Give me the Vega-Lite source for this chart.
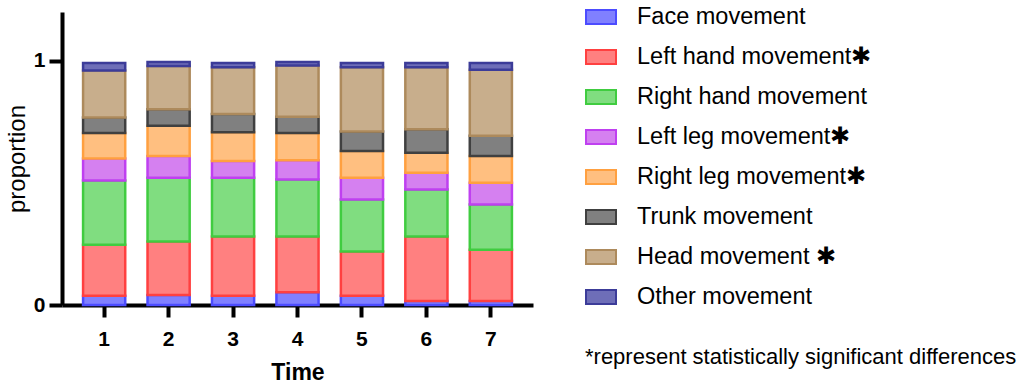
{
  "$schema": "https://vega.github.io/schema/vega-lite/v6.json",
  "width": 471,
  "height": 293,
  "autosize": {"type": "none"},
  "padding": {"left": 62, "top": 12, "right": 491, "bottom": 80},
  "background": "white",
  "config": {
    "font": "Liberation Sans",
    "view": {"stroke": null},
    "legend": {
      "orient": "none",
      "legendX": 523,
      "legendY": -11,
      "symbolType": "M-1,-0.47H1V0.47H-1Z",
      "symbolSize": 900,
      "symbolStrokeWidth": 2,
      "symbolOpacity": 1,
      "labelFontSize": 23.5,
      "labelColor": "black",
      "labelOffset": 20,
      "labelLimit": 400,
      "rowPadding": 12,
      "titleOrient": "bottom",
      "titleAnchor": "start",
      "titleFontSize": 22,
      "titleFontWeight": "normal",
      "titleColor": "black",
      "titleLimit": 800,
      "titlePadding": 38
    }
  },
  "data": {
    "values": [
      {"time": "1", "part": "Face movement", "p": 0.038},
      {"time": "1", "part": "Left hand movement", "p": 0.209},
      {"time": "1", "part": "Right hand movement", "p": 0.263},
      {"time": "1", "part": "Left leg movement", "p": 0.090},
      {"time": "1", "part": "Right leg movement", "p": 0.104},
      {"time": "1", "part": "Trunk movement", "p": 0.064},
      {"time": "1", "part": "Head movement", "p": 0.192},
      {"time": "1", "part": "Other movement", "p": 0.031},
      {"time": "2", "part": "Face movement", "p": 0.041},
      {"time": "2", "part": "Left hand movement", "p": 0.219},
      {"time": "2", "part": "Right hand movement", "p": 0.261},
      {"time": "2", "part": "Left leg movement", "p": 0.089},
      {"time": "2", "part": "Right leg movement", "p": 0.124},
      {"time": "2", "part": "Trunk movement", "p": 0.068},
      {"time": "2", "part": "Head movement", "p": 0.177},
      {"time": "2", "part": "Other movement", "p": 0.016},
      {"time": "3", "part": "Face movement", "p": 0.038},
      {"time": "3", "part": "Left hand movement", "p": 0.243},
      {"time": "3", "part": "Right hand movement", "p": 0.240},
      {"time": "3", "part": "Left leg movement", "p": 0.069},
      {"time": "3", "part": "Right leg movement", "p": 0.117},
      {"time": "3", "part": "Trunk movement", "p": 0.075},
      {"time": "3", "part": "Head movement", "p": 0.192},
      {"time": "3", "part": "Other movement", "p": 0.017},
      {"time": "4", "part": "Face movement", "p": 0.052},
      {"time": "4", "part": "Left hand movement", "p": 0.229},
      {"time": "4", "part": "Right hand movement", "p": 0.233},
      {"time": "4", "part": "Left leg movement", "p": 0.079},
      {"time": "4", "part": "Right leg movement", "p": 0.111},
      {"time": "4", "part": "Trunk movement", "p": 0.067},
      {"time": "4", "part": "Head movement", "p": 0.210},
      {"time": "4", "part": "Other movement", "p": 0.014},
      {"time": "5", "part": "Face movement", "p": 0.038},
      {"time": "5", "part": "Left hand movement", "p": 0.181},
      {"time": "5", "part": "Right hand movement", "p": 0.213},
      {"time": "5", "part": "Left leg movement", "p": 0.089},
      {"time": "5", "part": "Right leg movement", "p": 0.110},
      {"time": "5", "part": "Trunk movement", "p": 0.080},
      {"time": "5", "part": "Head movement", "p": 0.263},
      {"time": "5", "part": "Other movement", "p": 0.017},
      {"time": "6", "part": "Face movement", "p": 0.016},
      {"time": "6", "part": "Left hand movement", "p": 0.265},
      {"time": "6", "part": "Right hand movement", "p": 0.192},
      {"time": "6", "part": "Left leg movement", "p": 0.069},
      {"time": "6", "part": "Right leg movement", "p": 0.082},
      {"time": "6", "part": "Trunk movement", "p": 0.096},
      {"time": "6", "part": "Head movement", "p": 0.254},
      {"time": "6", "part": "Other movement", "p": 0.017},
      {"time": "7", "part": "Face movement", "p": 0.016},
      {"time": "7", "part": "Left hand movement", "p": 0.210},
      {"time": "7", "part": "Right hand movement", "p": 0.186},
      {"time": "7", "part": "Left leg movement", "p": 0.089},
      {"time": "7", "part": "Right leg movement", "p": 0.109},
      {"time": "7", "part": "Trunk movement", "p": 0.083},
      {"time": "7", "part": "Head movement", "p": 0.270},
      {"time": "7", "part": "Other movement", "p": 0.028}
    ]
  },
  "transform": [
    {"calculate": "indexof(['Face movement', 'Left hand movement', 'Right hand movement', 'Left leg movement', 'Right leg movement', 'Trunk movement', 'Head movement', 'Other movement'], datum.part)", "as": "stackOrder"}
  ],
  "mark": {"type": "bar", "strokeWidth": 2.5},
  "encoding": {
    "x": {
      "field": "time",
      "type": "ordinal",
      "scale": {"paddingInner": 0.346, "paddingOuter": 0.327},
      "axis": {
        "title": "Time",
        "titleFontSize": 23,
        "titleFontWeight": "bold",
        "titleColor": "black",
        "titlePadding": 12,
        "labelAngle": 0,
        "labelFontSize": 21,
        "labelFontWeight": "bold",
        "labelColor": "black",
        "labelPadding": 11,
        "tickSize": 12,
        "tickWidth": 4,
        "tickColor": "black",
        "domainWidth": 4,
        "domainColor": "black"
      }
    },
    "y": {
      "field": "p",
      "type": "quantitative",
      "stack": "zero",
      "scale": {"domain": [0, 1.2], "nice": false},
      "axis": {
        "title": "proportion",
        "titleFontSize": 24,
        "titleFontWeight": "normal",
        "titleColor": "black",
        "titlePadding": 4,
        "values": [0, 1],
        "format": "d",
        "grid": false,
        "labelFontSize": 21,
        "labelFontWeight": "bold",
        "labelColor": "black",
        "labelPadding": 4,
        "tickSize": 13,
        "tickWidth": 4,
        "tickColor": "black",
        "domainWidth": 4,
        "domainColor": "black"
      }
    },
    "order": {"field": "stackOrder", "type": "quantitative", "sort": "ascending"},
    "fill": {
      "field": "part",
      "type": "nominal",
      "title": "*represent statistically significant differences",
      "sort": ["Face movement", "Left hand movement", "Right hand movement", "Left leg movement", "Right leg movement", "Trunk movement", "Head movement", "Other movement"],
      "scale": {
        "domain": ["Face movement", "Left hand movement", "Right hand movement", "Left leg movement", "Right leg movement", "Trunk movement", "Head movement", "Other movement"],
        "range": ["#8080ff", "#ff8080", "#80dd80", "#d580f0", "#ffbf80", "#808080", "#c8ae8c", "#6e6eb8"]
      },
      "legend": {"labelExpr": "datum.label == 'Head movement' ? datum.label + ' ✱' : (indexof(['Left hand movement', 'Left leg movement', 'Right leg movement'], datum.label) >= 0 ? datum.label + '✱' : datum.label)"}
    },
    "stroke": {
      "field": "part",
      "type": "nominal",
      "title": "*represent statistically significant differences",
      "sort": ["Face movement", "Left hand movement", "Right hand movement", "Left leg movement", "Right leg movement", "Trunk movement", "Head movement", "Other movement"],
      "scale": {
        "domain": ["Face movement", "Left hand movement", "Right hand movement", "Left leg movement", "Right leg movement", "Trunk movement", "Head movement", "Other movement"],
        "range": ["#4c4cff", "#ff4040", "#40cc40", "#bf40f0", "#ffa040", "#404040", "#ad8a5c", "#3c3c99"]
      },
      "legend": {"labelExpr": "datum.label == 'Head movement' ? datum.label + ' ✱' : (indexof(['Left hand movement', 'Left leg movement', 'Right leg movement'], datum.label) >= 0 ? datum.label + '✱' : datum.label)"}
    }
  }
}
